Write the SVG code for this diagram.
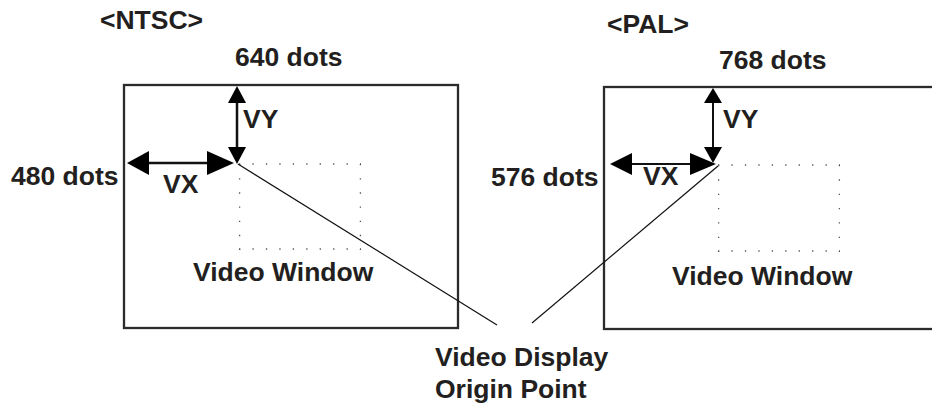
<svg xmlns="http://www.w3.org/2000/svg" width="932" height="408" viewBox="0 0 932 408">
<style>
text{font-family:"Liberation Sans",Arial,sans-serif;font-weight:bold;font-size:26.5px;fill:#231f20}
.frame{fill:none;stroke:#2b2b2b;stroke-width:2.3}
.shaft{stroke:#111;stroke-width:2.5;fill:none}
.head{fill:#000}
.dot{stroke:#555;stroke-width:1.3;fill:none}
.lead{stroke:#111;stroke-width:1.2;fill:none}
</style>
<rect width="932" height="408" fill="#fff"/>
<g id="ntsc">
  <text x="100" y="29">&lt;NTSC&gt;</text>
  <text x="235" y="66">640 dots</text>
  <text x="11" y="185">480 dots</text>
  <rect class="frame" x="124" y="85" width="334" height="243"/>
  <g id="ntsc-vy">
    <line class="shaft" x1="237" y1="100" x2="237" y2="150"/>
    <polygon class="head" points="237,86 228,103 246,103"/>
    <polygon class="head" points="237,164 228,147 246,147"/>
    <text x="243" y="128">VY</text>
  </g>
  <g id="ntsc-vx">
    <line class="shaft" x1="145" y1="163" x2="212" y2="163"/>
    <polygon class="head" points="127,163 149,151 149,175"/>
    <polygon class="head" points="234,163 207,151 207,175"/>
    <text x="163" y="193">VX</text>
  </g>
  <g id="ntsc-window">
    <line class="dot" x1="239" y1="164" x2="361" y2="164" stroke-dasharray="1.3 12.14"/>
    <line class="dot" x1="239" y1="249" x2="361" y2="249" stroke-dasharray="1.3 12.14"/>
    <line class="dot" x1="239.6" y1="164" x2="239.6" y2="250" stroke-dasharray="1.3 12.87"/>
    <line class="dot" x1="360.4" y1="164" x2="360.4" y2="250" stroke-dasharray="1.3 12.87"/>
    <text x="193" y="281">Video Window</text>
  </g>
</g>
<g id="pal">
  <text x="607" y="33">&lt;PAL&gt;</text>
  <text x="719" y="69">768 dots</text>
  <text x="491" y="186">576 dots</text>
  <rect class="frame" x="604" y="87" width="340" height="242"/>
  <g id="pal-vy">
    <line class="shaft" x1="713" y1="100" x2="713" y2="150" style="stroke-width:2"/>
    <polygon class="head" points="713,88 704,103 722,103"/>
    <polygon class="head" points="713,163 704,147 722,147"/>
    <text x="723" y="128">VY</text>
  </g>
  <g id="pal-vx">
    <line class="shaft" x1="625" y1="164" x2="695" y2="164" style="stroke-width:2"/>
    <polygon class="head" points="610,164 632,153 632,175"/>
    <polygon class="head" points="716,164 690,153 690,175"/>
    <text x="643" y="185">VX</text>
  </g>
  <g id="pal-window">
    <line class="dot" x1="718" y1="165" x2="840" y2="165" stroke-dasharray="1.3 12.14"/>
    <line class="dot" x1="718" y1="251" x2="840" y2="251" stroke-dasharray="1.3 12.14"/>
    <line class="dot" x1="718.6" y1="165" x2="718.6" y2="252" stroke-dasharray="1.3 13.03"/>
    <line class="dot" x1="839.4" y1="165" x2="839.4" y2="252" stroke-dasharray="1.3 13.03"/>
    <text x="672" y="285">Video Window</text>
  </g>
</g>
<g id="origin-label">
  <text x="435" y="366">Video Display</text>
  <text x="435" y="398">Origin Point</text>
</g>
<g id="connectors">
  <line class="lead" x1="238" y1="164" x2="497" y2="325"/>
  <line class="lead" x1="718" y1="166" x2="532" y2="323"/>
</g>
</svg>
